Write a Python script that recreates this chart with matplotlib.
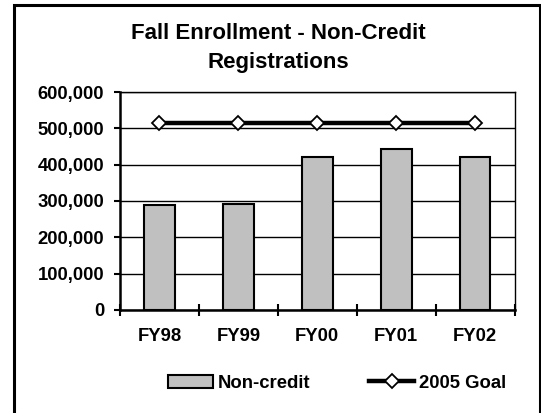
import matplotlib
matplotlib.use("Agg")
import matplotlib.pyplot as plt
from matplotlib.patches import Rectangle
from matplotlib.lines import Line2D
from matplotlib.ticker import FuncFormatter, MultipleLocator

years = ["FY98", "FY99", "FY00", "FY01", "FY02"]
non_credit = [288000, 291000, 422000, 444000, 420000]
goal = [514000, 514000, 514000, 514000, 514000]

plt.rcParams["font.family"] = ["Liberation Sans", "DejaVu Sans"]
plt.rcParams["font.weight"] = "bold"

W, H = 541, 413
fig = plt.figure(figsize=(W / 100, H / 100), dpi=100)

# outer chart frame
fig.patches.append(Rectangle((13.5 / W, -0.05), (539.5 - 13.5) / W, 1.05 - 5.5 / H,
                             transform=fig.transFigure, fill=False,
                             edgecolor="black", linewidth=2.2))

ax = fig.add_axes([120 / W, 1 - 310 / H, (514.5 - 120) / W, (310 - 92) / H])

x = list(range(len(years)))
ax.bar(x, non_credit, width=0.39, color="#C0C0C0", edgecolor="black",
       linewidth=1.5, zorder=3)
ax.plot(x, goal, color="black", linewidth=3.2, marker="D", markersize=7,
        markerfacecolor="white", markeredgecolor="black", markeredgewidth=1.3,
        zorder=4)

ax.set_xlim(-0.5, len(years) - 0.5)
ax.set_ylim(0, 600000)
ax.yaxis.set_major_locator(MultipleLocator(100000))
ax.yaxis.set_major_formatter(FuncFormatter(lambda v, p: f"{int(v):,}"))
ax.grid(axis="y", color="black", linewidth=1, zorder=0)

ax.set_xticks(x)
ax.set_xticklabels(years)
ax.set_xticks([i - 0.5 for i in range(len(years) + 1)], minor=True)
ax.tick_params(axis="x", which="major", length=0, pad=13, labelsize=13.3)
ax.tick_params(axis="x", which="minor", direction="inout", length=9, width=1.5)
ax.tick_params(axis="y", direction="out", length=4.5, width=1.5, labelsize=13.3, pad=7)

for s in ["top", "right"]:
    ax.spines[s].set_linewidth(1)
for s in ["left", "bottom"]:
    ax.spines[s].set_linewidth(1.8)

fig.text(278 / W, 1 - 48 / H, "Fall Enrollment - Non-Credit\nRegistrations",
         ha="center", va="center", fontsize=16, fontweight="bold", linespacing=1.45)

handles = [
    Rectangle((0, 0), 1, 1, facecolor="#C0C0C0", edgecolor="black", linewidth=1.5),
    Line2D([], [], color="black", linewidth=3.2, marker="D", markersize=7,
           markerfacecolor="white", markeredgecolor="black", markeredgewidth=1.3),
]
fig.legend(handles, ["Non-credit", "2005 Goal"], loc="center",
           bbox_to_anchor=(337 / W, 1 - 383 / H), ncol=2, frameon=False,
           fontsize=13.3, handlelength=2.43, handletextpad=0.27, columnspacing=3.2)

fig.savefig("out.png", dpi=100)
